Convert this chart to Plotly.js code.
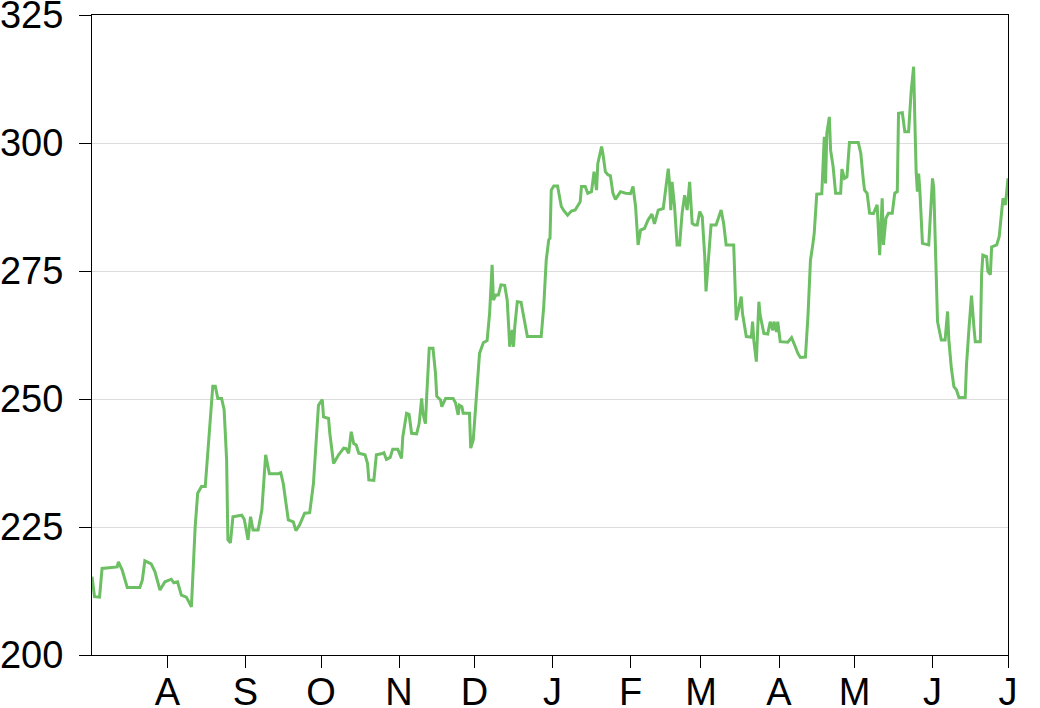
<!DOCTYPE html>
<html>
<head>
<meta charset="utf-8">
<script src="https://cdn.plot.ly/plotly-3.0.1.min.js"></script>
<style>
  html, body { margin: 0; padding: 0; background: #ffffff; }
  #chart { width: 1040px; height: 708px; }
</style>
</head>
<body>
<div id="chart"></div>
<script>
// Daily price readings, July 2018 to July 2019
const dates = [
  '2018-07-02','2018-07-03','2018-07-05','2018-07-06','2018-07-12','2018-07-12 12:00','2018-07-14','2018-07-16',
  '2018-07-21','2018-07-22','2018-07-23','2018-07-25 12:00','2018-07-27','2018-07-29','2018-07-31',
  '2018-08-02 12:00','2018-08-03 12:00','2018-08-05','2018-08-06 12:00','2018-08-08 12:00','2018-08-10 12:00',
  '2018-08-12','2018-08-13','2018-08-14 12:00','2018-08-16','2018-08-17 12:00','2018-08-19','2018-08-20',
  '2018-08-21','2018-08-22 12:00','2018-08-23 12:00','2018-08-24 12:00','2018-08-25','2018-08-26','2018-08-27',
  '2018-08-30 12:00','2018-08-31 12:00',
  '2018-09-02','2018-09-03','2018-09-04','2018-09-06','2018-09-07 12:00','2018-09-09','2018-09-10 12:00',
  '2018-09-14','2018-09-15','2018-09-16','2018-09-18','2018-09-20','2018-09-21','2018-09-22 12:00',
  '2018-09-24 12:00','2018-09-26 12:00','2018-09-28','2018-09-29 12:00','2018-09-30',
  '2018-10-01 12:00','2018-10-02','2018-10-04','2018-10-04 12:00','2018-10-06','2018-10-08','2018-10-10',
  '2018-10-11','2018-10-12','2018-10-13','2018-10-14','2018-10-15','2018-10-16','2018-10-18 12:00',
  '2018-10-19 12:00','2018-10-20','2018-10-22','2018-10-23','2018-10-25','2018-10-26','2018-10-27',
  '2018-10-28 12:00','2018-10-29 12:00','2018-10-31 12:00',
  '2018-11-02','2018-11-02 12:00','2018-11-04','2018-11-05','2018-11-06','2018-11-08','2018-11-09',
  '2018-11-10','2018-11-10 12:00','2018-11-11 12:00','2018-11-12','2018-11-13','2018-11-14 12:00',
  '2018-11-15 12:00','2018-11-16','2018-11-17 12:00','2018-11-18','2018-11-19 12:00','2018-11-22 12:00',
  '2018-11-23 12:00','2018-11-24 12:00','2018-11-25','2018-11-26','2018-11-26 12:00','2018-11-29',
  '2018-11-29 12:00','2018-11-30 12:00',
  '2018-12-02','2018-12-03','2018-12-04 12:00','2018-12-06','2018-12-07','2018-12-08','2018-12-08 12:00',
  '2018-12-09 12:00','2018-12-10 12:00','2018-12-11 12:00','2018-12-13','2018-12-14','2018-12-14 12:00',
  '2018-12-15','2018-12-16','2018-12-16 12:00','2018-12-17','2018-12-18','2018-12-19 12:00','2018-12-21',
  '2018-12-22','2018-12-27 12:00','2018-12-28 12:00','2018-12-29 12:00','2018-12-30 12:00','2018-12-31',
  '2018-12-31 12:00',
  '2019-01-01 12:00','2019-01-03','2019-01-04 12:00','2019-01-05 12:00','2019-01-07','2019-01-08 12:00',
  '2019-01-10','2019-01-12','2019-01-12 12:00','2019-01-14','2019-01-15','2019-01-16 12:00',
  '2019-01-17 12:00','2019-01-18 12:00','2019-01-19','2019-01-20 12:00','2019-01-21','2019-01-22',
  '2019-01-23','2019-01-24','2019-01-25','2019-01-26','2019-01-28','2019-01-30',
  '2019-02-01','2019-02-02','2019-02-03','2019-02-03 12:00','2019-02-04','2019-02-05','2019-02-06 12:00',
  '2019-02-08','2019-02-09 12:00','2019-02-10 12:00','2019-02-12','2019-02-14','2019-02-15','2019-02-16',
  '2019-02-16 12:00','2019-02-17','2019-02-17 12:00','2019-02-18 12:00','2019-02-19 12:00',
  '2019-02-20 12:00','2019-02-21 12:00','2019-02-22 12:00','2019-02-23 12:00','2019-02-24 12:00',
  '2019-02-25 12:00','2019-02-26 12:00','2019-02-27 12:00','2019-02-28 12:00',
  '2019-03-01 12:00','2019-03-02 12:00','2019-03-03','2019-03-04','2019-03-05','2019-03-07',
  '2019-03-08 12:00','2019-03-09','2019-03-10','2019-03-11','2019-03-14','2019-03-14 12:00','2019-03-15',
  '2019-03-16','2019-03-17','2019-03-17 12:00','2019-03-19','2019-03-21','2019-03-21 12:00','2019-03-22',
  '2019-03-23','2019-03-24','2019-03-24 12:00','2019-03-26','2019-03-27 12:00','2019-03-28 12:00',
  '2019-03-29 12:00','2019-03-30','2019-03-31','2019-03-31 12:00',
  '2019-04-01 12:00','2019-04-04 12:00','2019-04-06','2019-04-07 12:00','2019-04-08 12:00',
  '2019-04-09 12:00','2019-04-11 12:00','2019-04-12 12:00','2019-04-13 12:00','2019-04-14 12:00',
  '2019-04-15','2019-04-16','2019-04-18','2019-04-19','2019-04-19 12:00','2019-04-20','2019-04-21',
  '2019-04-21 12:00','2019-04-22 12:00','2019-04-23 12:00','2019-04-25 12:00','2019-04-26','2019-04-27',
  '2019-04-28','2019-04-29',
  '2019-05-02 12:00','2019-05-03 12:00','2019-05-04 12:00','2019-05-05','2019-05-06','2019-05-07',
  '2019-05-08 12:00','2019-05-09 12:00','2019-05-10','2019-05-11','2019-05-11 12:00','2019-05-12',
  '2019-05-12 12:00','2019-05-13 12:00','2019-05-14 12:00','2019-05-16','2019-05-17','2019-05-18',
  '2019-05-18 12:00','2019-05-20','2019-05-21','2019-05-22 12:00','2019-05-23 12:00','2019-05-24',
  '2019-05-24 12:00','2019-05-25','2019-05-25 12:00','2019-05-26','2019-05-26 12:00','2019-05-27',
  '2019-05-28','2019-05-30 12:00','2019-05-31 12:00',
  '2019-06-01','2019-06-01 12:00','2019-06-02','2019-06-02 12:00','2019-06-03','2019-06-04 12:00',
  '2019-06-06','2019-06-07','2019-06-07 12:00','2019-06-08 12:00','2019-06-09 12:00','2019-06-10 12:00',
  '2019-06-11 12:00','2019-06-14','2019-06-14 12:00','2019-06-15 12:00','2019-06-16 12:00',
  '2019-06-17 12:00','2019-06-18','2019-06-20','2019-06-20 12:00','2019-06-21','2019-06-22 12:00',
  '2019-06-23','2019-06-24','2019-06-24 12:00','2019-06-26 12:00','2019-06-27 12:00','2019-06-28 12:00',
  '2019-06-29','2019-06-30','2019-06-30 12:00','2019-07-01'
];

const prices = [
  215.3,211.4,211.3,216.9,217.2,218.2,216.6,213.2,
  213.2,214.6,218.4,217.8,216.3,212.7,214.3,
  214.8,214.1,214.3,211.7,211.3,209.4,
  225.1,231.6,232.9,232.9,243.3,252.5,252.5,
  250.1,250.1,247.9,238.1,222.5,221.9,227.0,
  227.3,226.5,
  222.5,227.0,224.4,224.4,228.3,239.1,235.4,
  235.4,235.6,233.5,226.4,226.0,224.3,225.4,
  227.7,227.8,233.5,245.9,248.8,
  249.9,246.5,246.2,243.3,237.4,239.1,240.4,
  240.3,239.4,243.6,241.3,241.0,239.4,239.1,
  237.4,234.2,234.1,239.1,239.3,239.5,238.2,
  238.6,240.2,240.2,
  238.4,242.6,247.2,247.0,243.3,243.2,245.2,
  250.1,247.2,245.2,250.5,259.9,259.9,
  255.0,250.5,249.8,248.5,250.1,250.1,
  249.2,246.9,248.8,248.5,247.2,247.2,
  240.4,242.0,
  251.8,258.9,261.0,261.4,266.7,276.2,269.3,
  270.3,270.3,272.3,272.2,269.3,264.8,
  260.2,263.5,260.2,264.1,269.0,268.9,264.8,
  262.2,262.2,268.0,277.1,281.1,281.4,
  290.8,
  291.6,291.6,287.6,286.8,285.9,286.7,
  286.9,288.5,291.5,291.5,290.2,290.5,
  294.4,290.8,296.0,299.3,298.0,294.4,
  293.8,293.6,290.2,289.0,290.5,290.2,
  290.1,291.5,287.6,283.0,280.1,283.0,283.3,
  285.0,286.1,284.2,286.9,287.2,290.8,295.0,
  292.1,286.9,292.4,287.6,280.1,
  280.1,286.3,289.8,286.9,292.4,
  284.3,284.0,284.0,286.6,
  285.6,277.8,271.0,277.0,284.0,284.0,
  285.9,286.9,284.3,280.1,280.1,271.9,265.4,
  267.7,270.0,266.7,262.2,262.1,265.1,261.4,
  257.3,269.0,266.4,262.8,262.7,265.1,
  263.4,265.1,263.1,265.1,
  261.2,261.1,262.0,260.2,258.9,
  258.1,258.2,266.1,277.1,280.4,
  282.4,290.0,290.1,301.2,292.1,301.9,305.1,
  298.6,295.4,290.2,290.2,294.9,293.1,
  293.4,300.1,
  300.1,298.0,292.8,290.8,290.2,286.3,
  286.2,287.6,287.9,278.1,285.6,289.2,
  280.1,285.3,286.3,286.3,290.2,290.5,
  305.8,305.9,302.2,302.2,310.0,313.3,
  314.9,304.2,294.4,290.5,294.0,290.5,
  280.4,280.1,287.9,
  293.1,291.2,280.7,271.6,265.1,261.5,
  261.5,267.1,261.5,256.0,252.4,251.8,
  250.3,250.3,256.6,263.8,270.2,
  263.8,261.2,261.2,274.2,278.1,277.8,
  274.9,274.3,279.7,280.1,281.7,287.3,
  289.2,287.9,291.2,293.1
];

// Month ticks and their single-letter labels
const monthTicks = ['2018-08-01','2018-09-01','2018-10-01','2018-11-01','2018-12-01','2019-01-01',
                    '2019-02-01','2019-03-01','2019-04-01','2019-05-01','2019-06-01','2019-07-01'];
const monthLabels = ['A','S','O','N','D','J','F','M','A','M','J','J'];
const yTicks = [200, 225, 250, 275, 300, 325];

const tickFont = { family: 'Liberation Sans, Arial, Helvetica, sans-serif', size: 38, color: '#000000' };

const trace = {
  type: 'scatter',
  mode: 'lines',
  x: dates,
  y: prices,
  line: { color: '#6cbf62', width: 3 },
  hoverinfo: 'x+y'
};

const layout = {
  width: 1040,
  height: 708,
  margin: { l: 92, r: 32, t: 15, b: 53 },
  paper_bgcolor: '#ffffff',
  plot_bgcolor: '#ffffff',
  showlegend: false,
  xaxis: {
    type: 'date',
    range: ['2018-07-02', '2019-07-01'],
    tickmode: 'array',
    tickvals: monthTicks,
    ticktext: monthLabels,
    ticks: 'outside',
    ticklen: 12,
    tickwidth: 1,
    tickcolor: '#000000',
    ticklabelstandoff: -9,
    ticklabeloverflow: 'allow',
    showline: true,
    linecolor: '#000000',
    linewidth: 1,
    mirror: true,
    showgrid: false,
    zeroline: false,
    tickfont: tickFont
  },
  yaxis: {
    range: [200, 325],
    tickmode: 'array',
    tickvals: yTicks,
    ticks: 'outside',
    ticklen: 12,
    tickwidth: 1,
    tickcolor: '#000000',
    ticklabelstandoff: 8,
    ticklabeloverflow: 'allow',
    showline: true,
    linecolor: '#000000',
    linewidth: 1,
    mirror: true,
    showgrid: true,
    gridcolor: '#dcdcdc',
    gridwidth: 1,
    zeroline: false,
    tickfont: tickFont
  }
};

Plotly.newPlot('chart', [trace], layout, { displayModeBar: false, staticPlot: true });
</script>
</body>
</html>
